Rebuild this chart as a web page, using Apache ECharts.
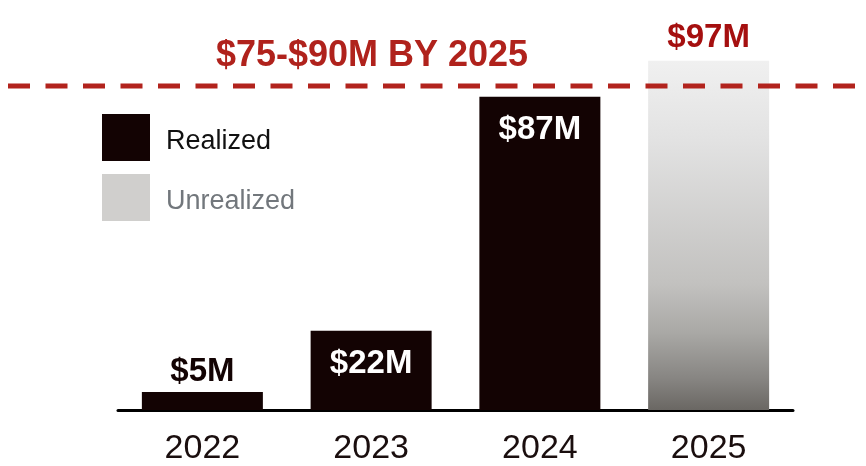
<!DOCTYPE html>
<html>
<head>
<meta charset="utf-8">
<script src="https://cdn.jsdelivr.net/npm/echarts@6/dist/echarts.min.js"></script>
<style>
  html, body { margin: 0; padding: 0; background: #ffffff; }
  #chart { width: 866px; height: 466px; }
</style>
</head>
<body>
<div id="chart"></div>
<script>
// Revenue by year, in $M
const years = ['2022', '2023', '2024', '2025'];
const realized = [5, 22, 87, '-'];
const unrealized = ['-', '-', '-', 97];
const targetValue = 90;
const targetText = '$75-$90M BY 2025';
const seriesNames = ['Realized', 'Unrealized'];

const FONT = '"Liberation Sans", Arial, sans-serif';
const DARK = '#130303';
const RED = '#b0221c';

const money = v => '$' + v + 'M';

// Bars too short to hold their label get it placed on top instead
const realizedData = realized.map(v => (v !== '-' && v < 10)
  ? { value: v, label: { position: 'top', distance: 4, color: DARK } }
  : v);

const chart = echarts.init(document.getElementById('chart'), null, { renderer: 'canvas' });

chart.setOption({
  animation: false,
  backgroundColor: '#ffffff',
  grid: { left: 118, right: 73, top: 50, bottom: 55 },
  legend: {
    orient: 'vertical',
    left: 97,
    top: 109,
    itemWidth: 48,
    itemHeight: 47,
    itemGap: 13,
    icon: 'rect',
    formatter: name => '{t|' + name + '}',
    data: [
      { name: seriesNames[0], textStyle: { rich: { t: { color: '#111111' } } } },
      { name: seriesNames[1], itemStyle: { color: '#d0cfcd' }, textStyle: { rich: { t: { color: '#72777c' } } } }
    ],
    textStyle: {
      rich: { t: { fontFamily: FONT, fontSize: 27, padding: [8, 0, 0, 11] } }
    }
  },
  xAxis: {
    type: 'category',
    data: years,
    axisLine: { lineStyle: { color: '#000000', width: 3 } },
    axisTick: { show: false },
    axisLabel: { fontFamily: FONT, fontSize: 34, color: '#1a0e0e', margin: 22 }
  },
  yAxis: {
    type: 'value',
    min: 0,
    max: 100,
    show: false,
    splitLine: { show: false }
  },
  series: [
    {
      name: seriesNames[0],
      type: 'bar',
      stack: 'total',
      barWidth: 121,
      data: realizedData,
      itemStyle: { color: DARK },
      label: {
        show: true,
        position: 'insideTop',
        distance: 17,
        formatter: p => money(p.value),
        fontFamily: FONT,
        fontSize: 33,
        fontWeight: 'bold',
        color: '#ffffff'
      }
    },
    {
      name: seriesNames[1],
      type: 'bar',
      stack: 'total',
      barWidth: 121,
      data: unrealized,
      itemStyle: {
        color: new echarts.graphic.LinearGradient(0, 0, 0, 1, [
          { offset: 0, color: '#f0f0f0' },
          { offset: 0.23, color: '#e2e2e2' },
          { offset: 0.64, color: '#c2c1bf' },
          { offset: 0.78, color: '#a9a8a5' },
          { offset: 0.91, color: '#878582' },
          { offset: 1, color: '#6a6763' }
        ])
      },
      label: {
        show: true,
        position: 'top',
        distance: 6,
        formatter: p => money(p.value),
        fontFamily: FONT,
        fontSize: 33,
        fontWeight: 'bold',
        color: '#a50f0f'
      }
    }
  ]
});

// Target line across the full width, placed at the target value on the y scale
const targetY = chart.convertToPixel({ yAxisIndex: 0 }, targetValue);
chart.setOption({
  graphic: [
    {
      type: 'line',
      z: 100,
      shape: { x1: 8, y1: targetY, x2: 866, y2: targetY },
      style: { stroke: '#b2231d', lineWidth: 5, lineDash: [22, 15.5] }
    },
    {
      type: 'text',
      z: 100,
      style: {
        text: targetText,
        x: 372,
        y: targetY - 30,
        align: 'center',
        verticalAlign: 'middle',
        font: 'bold 36px ' + FONT,
        fill: RED
      }
    }
  ]
});
</script>
</body>
</html>
